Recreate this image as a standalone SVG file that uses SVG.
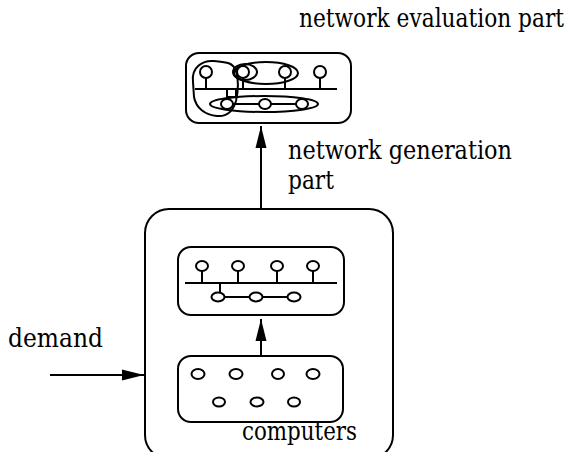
<svg xmlns="http://www.w3.org/2000/svg" width="570" height="452" viewBox="0 0 570 452">
<defs>
<style>
.box{fill:none;stroke:#000;stroke-width:2}
.ln{fill:none;stroke:#000;stroke-width:2}
.nd{fill:#fff;stroke:#000;stroke-width:2}
</style>
<marker id="ah" markerWidth="24" markerHeight="14" refX="22" refY="7" orient="auto" markerUnits="userSpaceOnUse">
<path d="M0,1.5 L22,7 L0,12.5 Z" fill="#000"/>
</marker>
</defs>
<rect width="570" height="452" fill="#fff"/>

<g id="evaluation-part">
<rect class="box" x="186" y="53" width="165" height="70" rx="13"/>
<path class="ln" d="M195 89 H337"/>
<path class="ln" d="M206 78 V89 M243 78 V89 M285 78 V89 M320 78 V89"/>
<path class="ln" d="M227 104 H302"/>
<rect class="ln" x="227" y="89" width="9" height="8"/>
<path class="ln" d="M231 97 L228 99"/>
<ellipse class="ln" cx="266" cy="73" rx="32" ry="11"/>
<ellipse class="ln" cx="264" cy="104" rx="54" ry="8"/>
<ellipse class="ln" cx="245" cy="72" rx="12" ry="8"/>
<path class="ln" d="M193 82 C191 67 203 60 214 61 C225 62 233 62 236 71 C239 81 238 92 236 101 C233 111 227 117 217 116 C205 115 196 108 194 97 Z"/>
<circle class="nd" cx="206" cy="72" r="6"/>
<circle class="nd" cx="243" cy="72" r="6"/>
<circle class="nd" cx="285" cy="72" r="6"/>
<circle class="nd" cx="320" cy="72" r="6"/>
<ellipse class="nd" cx="227" cy="104" rx="6" ry="5"/>
<ellipse class="nd" cx="265" cy="104" rx="6" ry="5"/>
<ellipse class="nd" cx="302" cy="104" rx="6" ry="5"/>
</g>

<g id="generation-part">
<rect class="box" x="145" y="209" width="248" height="250" rx="24"/>
</g>

<g id="network">
<rect class="box" x="178" y="247" width="166" height="68" rx="13"/>
<path class="ln" d="M185 283 H337"/>
<path class="ln" d="M202 271 V283 M238 271 V283 M277 271 V283 M313 271 V283"/>
<path class="ln" d="M220 283 V293 M218 297 H294"/>
<ellipse class="nd" cx="202" cy="266" rx="6" ry="5"/>
<ellipse class="nd" cx="238" cy="266" rx="6" ry="5"/>
<ellipse class="nd" cx="277" cy="266" rx="6" ry="5"/>
<ellipse class="nd" cx="313" cy="266" rx="6" ry="5"/>
<ellipse class="nd" cx="218" cy="297" rx="6.5" ry="4.5"/>
<ellipse class="nd" cx="256" cy="297" rx="6.5" ry="4.5"/>
<ellipse class="nd" cx="294" cy="297" rx="6.5" ry="4.5"/>
</g>

<g id="computers-box">
<rect class="box" x="178" y="356" width="165" height="66" rx="13"/>
<ellipse class="nd" cx="198" cy="374" rx="6.5" ry="5"/>
<ellipse class="nd" cx="236" cy="374" rx="6.5" ry="5"/>
<ellipse class="nd" cx="278" cy="374" rx="6" ry="5"/>
<ellipse class="nd" cx="313" cy="374" rx="6.5" ry="5"/>
<ellipse class="nd" cx="219" cy="402" rx="6" ry="4.5"/>
<ellipse class="nd" cx="257" cy="402" rx="6.5" ry="4.5"/>
<ellipse class="nd" cx="294" cy="402" rx="6" ry="4.5"/>
</g>

<g id="connectors">
<line class="ln" x1="261" y1="209" x2="261" y2="126" marker-end="url(#ah)"/>
<line class="ln" x1="261" y1="356" x2="261" y2="319" marker-end="url(#ah)"/>
<line class="ln" x1="50" y1="375" x2="144" y2="375" marker-end="url(#ah)"/>
</g>

<g id="labels" font-family="'DejaVu Serif', 'Liberation Serif', 'Times New Roman', serif" font-size="26" fill="#000">
<text x="564" y="27" text-anchor="end" textLength="265" lengthAdjust="spacingAndGlyphs">network evaluation part</text>
<text x="288" y="159" textLength="224" lengthAdjust="spacingAndGlyphs">network generation</text>
<text x="288" y="189" textLength="46" lengthAdjust="spacingAndGlyphs">part</text>
<text x="8" y="347" textLength="95" lengthAdjust="spacingAndGlyphs">demand</text>
<text x="242" y="440" textLength="115" lengthAdjust="spacingAndGlyphs">computers</text>
</g>
</svg>
